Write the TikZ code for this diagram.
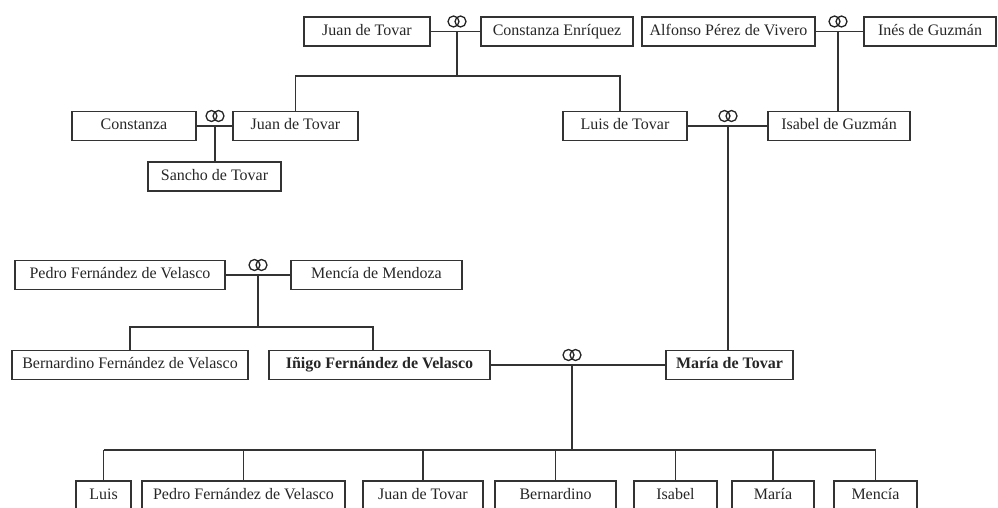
\documentclass[tikz,border=0pt]{standalone}
\usepackage{fontspec}
\setmainfont{Liberation Serif}
\begin{document}
\begin{tikzpicture}[x=1pt, y=-1pt, font=\fontsize{16}{19}\selectfont,
    person/.style={draw=black!80, line width=1.1pt, text=black!85, minimum height=29pt,
        inner xsep=3pt, inner ysep=0pt, text height=11pt, text depth=3.5pt},
    link/.style={draw=black!80, line width=1.3pt},
    ring/.style={draw=black!85, line width=1.3pt}]
    \useasboundingbox (0,0) rectangle (998,508);

    % Grandparents
    \node[person, minimum width=126pt] (jtA) at (367,31.5) {Juan de Tovar};
    \node[person, minimum width=152pt] (ce) at (557,31.5) {Constanza Enríquez};
    \node[person, minimum width=173pt] (apv) at (728.5,31.5) {Alfonso Pérez de Vivero};
    \node[person, minimum width=132pt] (ig) at (930,31.5) {Inés de Guzmán};

    % Tovar generation
    \node[person, minimum width=124pt] (con) at (134,126) {Constanza};
    \node[person, minimum width=125pt] (jtB) at (295.5,126) {Juan de Tovar};
    \node[person, minimum width=124pt] (lt) at (625,126) {Luis de Tovar};
    \node[person, minimum width=142pt] (isg) at (839,126) {Isabel de Guzmán};
    \node[person, minimum width=133pt] (st) at (214.5,176.5) {Sancho de Tovar};

    % Velasco side
    \node[person, minimum width=210pt] (pfv) at (120,275) {Pedro Fernández de Velasco};
    \node[person, minimum width=171pt] (mm) at (376.5,275) {Mencía de Mendoza};
    \node[person, minimum width=236pt] (bfv) at (130,365) {Bernardino Fernández de Velasco};
    \node[person, minimum width=221pt] (ifv) at (379.5,365) {\bfseries Iñigo Fernández de Velasco};
    \node[person, minimum width=127pt] (mt) at (729.5,365) {\bfseries María de Tovar};

    % Children
    \node[person, minimum width=55pt] (luis) at (103.5,495.5) {Luis};
    \node[person, minimum width=203pt] (pfvb) at (243.5,495.5) {Pedro Fernández de Velasco};
    \node[person, minimum width=120pt] (jtC) at (423,495.5) {Juan de Tovar};
    \node[person, minimum width=121pt] (bern) at (555.5,495.5) {Bernardino};
    \node[person, minimum width=83pt] (isa) at (675.5,495.5) {Isabel};
    \node[person, minimum width=82pt] (mar) at (773,495.5) {María};
    \node[person, minimum width=83pt] (men) at (875.5,495.5) {Mencía};

    % Marriage points and bus lines
    \coordinate (m1) at (457,31.5);
    \coordinate (m2) at (838,31.5);
    \coordinate (m3) at (215,126);
    \coordinate (m4) at (728,126);
    \coordinate (m5) at (258,275);
    \coordinate (m6) at (572,365);
    \coordinate (b1l) at (295.5,76);
    \coordinate (b1r) at (620,76);
    \coordinate (b5l) at (130,327);
    \coordinate (b5r) at (373,327);
    \coordinate (b6) at (572,450);

    % Marriages
    \draw[link] (jtA) -- (ce);
    \draw[link] (apv) -- (ig);
    \draw[link] (con) -- (jtB);
    \draw[link] (lt) -- (isg);
    \draw[link] (pfv) -- (mm);
    \draw[link] (ifv) -- (mt);
    \foreach \m in {m1,m2,m3,m4,m5,m6}
        \draw[ring] (\m) ++(-3.5,-10) circle (5.5pt) ++(7,0) circle (5.5pt);

    % Descent
    \draw[link] (m1) -- (m1 |- b1l);
    \draw[link] (jtB.north) -- (b1l) -- (b1r) -- (b1r |- lt.north);
    \draw[link] (m2) -- (m2 |- isg.north);
    \draw[link] (m3) -- (m3 |- st.north);
    \draw[link] (m4) -- (m4 |- mt.north);
    \draw[link] (m5) -- (m5 |- b5l);
    \draw[link] (bfv.north) -- (b5l) -- (b5r) -- (b5r |- ifv.north);
    \draw[link] (m6) -- (b6);
    \draw[link] (luis.north |- b6) -- (men.north |- b6);
    \foreach \c in {luis,pfvb,jtC,bern,isa,mar,men}
        \draw[link] (\c.north) -- (\c.north |- b6);
\end{tikzpicture}
\end{document}
